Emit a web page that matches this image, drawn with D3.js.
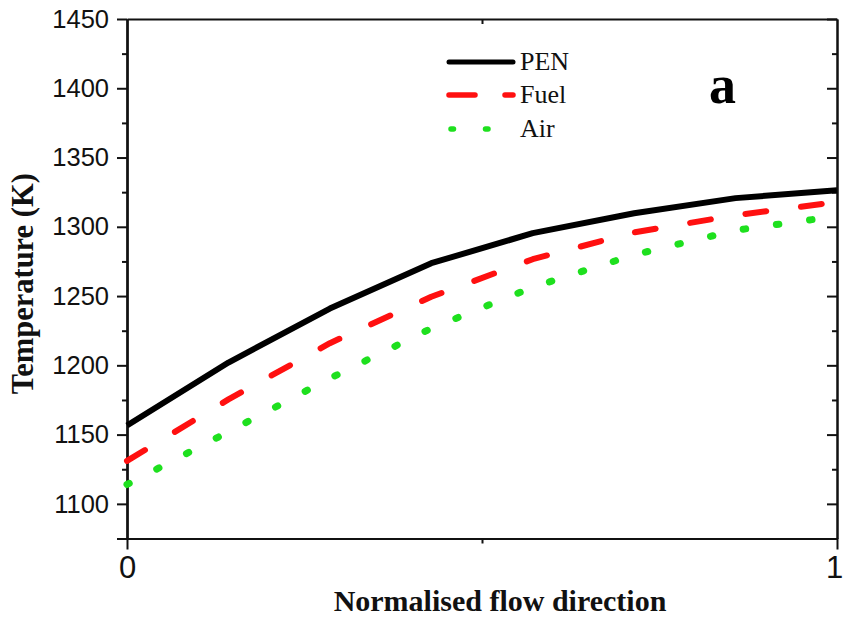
<!DOCTYPE html>
<html>
<head>
<meta charset="utf-8">
<script src="https://cdn.jsdelivr.net/npm/d3@7/dist/d3.min.js"></script>
<style>
  html, body { margin: 0; padding: 0; background: #fff; }
  svg { display: block; }
</style>
</head>
<body>
<svg id="chart" width="844" height="623"></svg>
<script>
// Temperature profiles along the normalised flow direction (x = k/7)
const flowPos = [0, 1/7, 2/7, 3/7, 4/7, 5/7, 6/7, 1];
const penTemp  = [1156.6, 1202.0, 1241.0, 1273.7, 1295.4, 1309.8, 1320.7, 1326.4];
const fuelTemp = [1131.0, 1175.4, 1216.0, 1249.5, 1276.6, 1296.0, 1308.4, 1317.8];
const airTemp  = [1114.0, 1152.0, 1190.6, 1226.7, 1256.4, 1279.8, 1297.5, 1307.7];

const seriesNames = ["PEN", "Fuel", "Air"];
const yMajorTicks = [1100, 1150, 1200, 1250, 1300, 1350, 1400, 1450];
const xTickLabels = [0, 1];

const svg = d3.select("#chart");
const m = { left: 127, right: 837, top: 19, bottom: 538.5 };

const x = d3.scaleLinear().domain([0, 1]).range([m.left, m.right]);
const y = d3.scaleLinear().domain([1075, 1450]).range([m.bottom, m.top]);

const yMinor = d3.range(1075, 1451, 25).filter(v => v % 50 !== 0);

const axisStroke = 2;

// Left axis: major ticks with labels, minor ticks without
const gLeft = svg.append("g").attr("transform", `translate(${m.left},0)`);
gLeft.call(d3.axisLeft(y).tickValues(yMajorTicks).tickSize(10).tickPadding(8)
  .tickFormat(d3.format("d")).tickSizeOuter(0));
gLeft.append("g").call(d3.axisLeft(y).tickValues(yMinor.filter(v => v !== 1075)).tickSize(5).tickFormat("").tickSizeOuter(0));
gLeft.append("g").call(d3.axisLeft(y).tickValues([1075]).tickSize(10).tickFormat("").tickSizeOuter(0));
gLeft.selectAll("text").attr("font-family", "'Liberation Sans', Arial, sans-serif")
  .attr("font-size", 25.5).attr("fill", "#111");

// Right axis: mirrored inward ticks
const gRight = svg.append("g").attr("transform", `translate(${m.right},0)`);
gRight.call(d3.axisRight(y).tickValues(yMajorTicks).tickSize(-10).tickFormat("").tickSizeOuter(0));
gRight.append("g").call(d3.axisRight(y).tickValues(yMinor).tickSize(-5).tickFormat("").tickSizeOuter(0));

// Bottom axis
const gBottom = svg.append("g").attr("transform", `translate(0,${m.bottom})`);
gBottom.call(d3.axisBottom(x).tickValues(xTickLabels).tickSize(11).tickPadding(6)
  .tickFormat(d3.format("d")).tickSizeOuter(0));
gBottom.append("g").call(d3.axisBottom(x).tickValues([0.5]).tickSize(5).tickFormat("").tickSizeOuter(0));
gBottom.selectAll("text").attr("font-family", "'Liberation Sans', Arial, sans-serif")
  .attr("font-size", 31).attr("fill", "#111")
  .attr("dx", d => d === 1 ? -3 : 0);

// Top axis
const gTop = svg.append("g").attr("transform", `translate(0,${m.top})`);
gTop.call(d3.axisTop(x).tickValues([0.5]).tickSize(-5).tickFormat("").tickSizeOuter(0));

svg.selectAll(".domain, .tick line").attr("stroke", "#111").attr("stroke-width", axisStroke);

// Axis titles
svg.append("text")
  .attr("transform", `translate(33,${(m.top + m.bottom) / 2 + 5}) rotate(-90)`)
  .attr("text-anchor", "middle")
  .attr("font-family", "'Liberation Serif', 'Times New Roman', serif")
  .attr("font-weight", "bold").attr("font-size", 30.5).attr("fill", "#111")
  .text("Temperature (K)");

svg.append("text")
  .attr("x", (m.left + m.right) / 2 + 18).attr("y", 611)
  .attr("text-anchor", "middle")
  .attr("font-family", "'Liberation Serif', 'Times New Roman', serif")
  .attr("font-weight", "bold").attr("font-size", 30).attr("fill", "#111")
  .text("Normalised flow direction");

// Series
const styles = {
  PEN:  { color: "#000000", width: 6, dash: null },
  Fuel: { color: "#ff1010", width: 6, dash: "21,35" },
  Air:  { color: "#1ee01e", width: 7, dash: "2.5,31" }
};
const series = [
  { name: "PEN", values: penTemp },
  { name: "Fuel", values: fuelTemp },
  { name: "Air", values: airTemp }
];

const line = d3.line().x((d, i) => x(flowPos[i])).y(d => y(d));

const plot = svg.append("g");
plot.selectAll("path.series").data(series).join("path")
  .attr("class", "series")
  .attr("d", s => line(s.values))
  .attr("fill", "none")
  .attr("stroke", s => styles[s.name].color)
  .attr("stroke-width", s => styles[s.name].width)
  .attr("stroke-linecap", s => s.name === "PEN" ? "butt" : "round")
  .attr("stroke-linejoin", "round")
  .attr("stroke-dasharray", s => styles[s.name].dash);

// Legend
const legendY = [62, 95, 129];
const legend = svg.append("g");
seriesNames.forEach((name, i) => {
  const st = styles[name];
  legend.append("line")
    .attr("x1", 449).attr("x2", 513)
    .attr("y1", legendY[i]).attr("y2", legendY[i])
    .attr("stroke", st.color)
    .attr("stroke-width", name === "PEN" ? 5 : 5.5)
    .attr("stroke-linecap", "round")
    .attr("stroke-dasharray", name === "Fuel" ? "26,30" : (name === "Air" ? "2.5,32" : null))
    .attr("stroke-dashoffset", name === "Air" ? -2 : 0);
  legend.append("text")
    .attr("x", 520).attr("y", legendY[i] + 8)
    .attr("font-family", "'Liberation Serif', 'Times New Roman', serif")
    .attr("font-size", 26).attr("fill", "#111")
    .text(name);
});

// Panel label
svg.append("text")
  .attr("x", 709).attr("y", 103)
  .attr("font-family", "'Liberation Serif', 'Times New Roman', serif")
  .attr("font-weight", "bold").attr("font-size", 54).attr("fill", "#000")
  .text("a");
</script>
</body>
</html>
